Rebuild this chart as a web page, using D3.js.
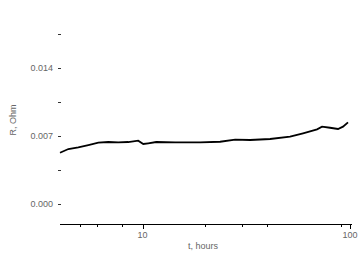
<!DOCTYPE html>
<head>
  <meta charset="utf-8">
  <script src="https://d3js.org/d3.v7.min.js"></script>
  <style>
    body {
      margin: 0;
      background: #fff;
      font-family: "Liberation Sans", sans-serif;
    }
    text {
      fill: #666;
      font-size: 9px;
    }
  </style>
</head>

<body>
  <div id="chart"></div>

  <script>
    // t, hours (log axis) and resistance, Ohm
    var hours = [4.0, 4.39, 4.9, 5.48, 6.12, 6.84, 7.64, 8.53, 9.53, 10.08, 10.65,
                 11.64, 14.37, 18.96, 23.66, 27.95, 33.0, 41.19, 51.42, 59.38,
                 69.37, 73.32, 80.12, 87.54, 92.53, 97.81];
    var ohms = [0.00528, 0.00566, 0.00584, 0.00607, 0.00631, 0.00638, 0.00635,
                0.00638, 0.00652, 0.00618, 0.00625, 0.00638, 0.00635, 0.00635,
                0.00641, 0.00662, 0.00659, 0.00669, 0.00693, 0.00728, 0.00769,
                0.00796, 0.00785, 0.00772, 0.00796, 0.00841];
    var xMajor = [10, 100];
    var xMinor = [5, 6, 8, 20, 30, 40, 90];
    var yMajor = [0.000, 0.007, 0.014];
    var yMinor = [0.0035, 0.0105, 0.0175];

    var width = 363, height = 258;
    var svg = d3.select("#chart").append("svg")
      .attr("width", width)
      .attr("height", height);

    var x = d3.scaleLog()
      .domain([4, 100])
      .range([60, 350]);
    var y = d3.scaleLinear()
      .domain([0, 0.014])
      .range([204, 68]);

    // x axis line + ticks
    svg.append("line")
      .attr("x1", 60).attr("x2", 352)
      .attr("y1", 224.5).attr("y2", 224.5)
      .attr("stroke", "#000").attr("stroke-width", 1.2);
    svg.selectAll("line.xminor")
        .data(xMinor)
      .enter().append("line")
        .attr("x1", function(d) { return Math.round(x(d)) + 0.5; })
        .attr("x2", function(d) { return Math.round(x(d)) + 0.5; })
        .attr("y1", 224).attr("y2", 227)
        .attr("stroke", "#000");
    svg.selectAll("line.xmajor")
        .data(xMajor)
      .enter().append("line")
        .attr("x1", function(d) { return Math.round(x(d)) + 0.5; })
        .attr("x2", function(d) { return Math.round(x(d)) + 0.5; })
        .attr("y1", 224).attr("y2", 229)
        .attr("stroke", "#000");
    svg.selectAll("text.xlab")
        .data(xMajor)
      .enter().append("text")
        .attr("x", function(d) { return x(d); })
        .attr("y", 238)
        .attr("text-anchor", "middle")
        .text(function(d) { return d; });

    // y ticks (no axis line)
    svg.selectAll("line.yt")
        .data(yMajor.concat(yMinor))
      .enter().append("line")
        .attr("x1", 58).attr("x2", 61)
        .attr("y1", function(d) { return Math.round(y(d)) + 0.5; })
        .attr("y2", function(d) { return Math.round(y(d)) + 0.5; })
        .attr("stroke", "#333");
    svg.selectAll("text.ylab")
        .data(yMajor)
      .enter().append("text")
        .attr("x", 53)
        .attr("y", function(d) { return y(d) + 3; })
        .attr("text-anchor", "end")
        .text(function(d) { return d3.format(".3f")(d); });

    // axis titles
    svg.append("text")
      .attr("x", 203).attr("y", 249)
      .attr("text-anchor", "middle")
      .text("t, hours");
    svg.append("text")
      .attr("transform", "translate(16,120) rotate(-90)")
      .attr("text-anchor", "middle")
      .text("R, Ohm");

    var line = d3.line()
      .x(function(d, i) { return x(hours[i]); })
      .y(function(d) { return y(d); });
    svg.append("path")
      .datum(ohms)
      .attr("d", line)
      .attr("fill", "none")
      .attr("stroke", "#000")
      .attr("stroke-width", 1.8);
  </script>
</body>
